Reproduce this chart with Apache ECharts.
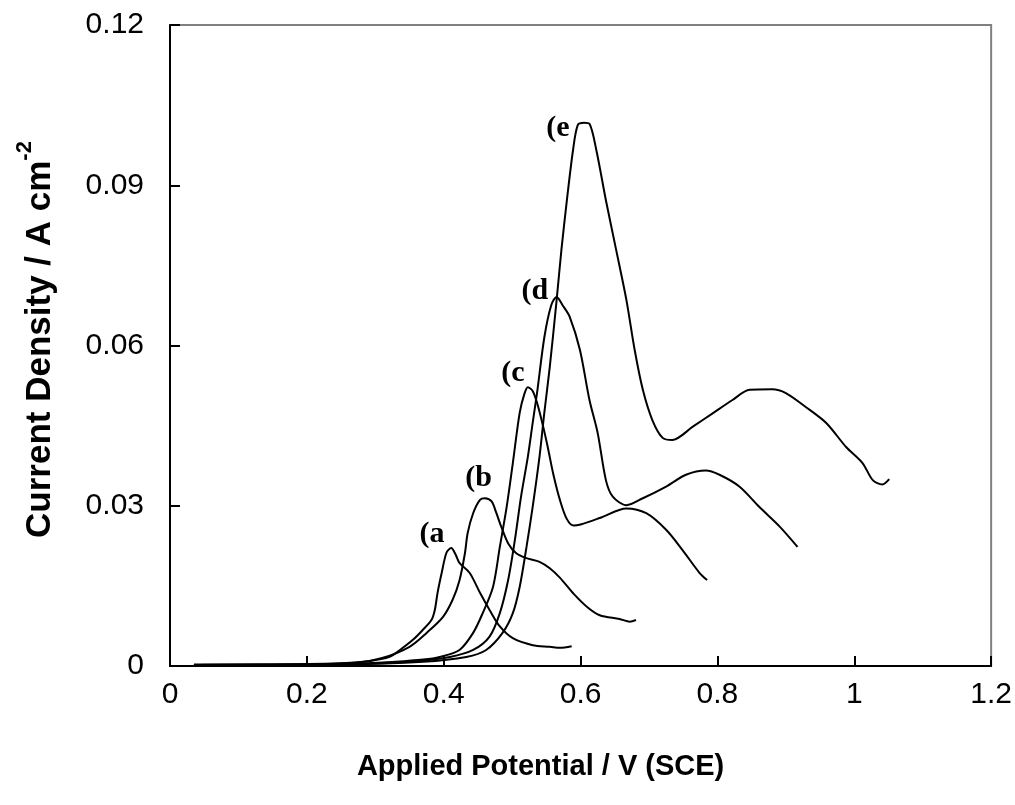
<!DOCTYPE html>
<html>
<head>
<meta charset="utf-8">
<script src="https://cdn.jsdelivr.net/npm/echarts@6/dist/echarts.min.js"></script>
<style>
html,body{margin:0;padding:0;background:#fff;}
#chart{width:1015px;height:805px;}
</style>
</head>
<body>
<div id="chart"></div>
<script>
const xTicks = {min: 0, max: 1.2, interval: 0.2};
const yTicks = {min: 0, max: 0.12, interval: 0.03};

const curveA = [[0.035,0.0003],[0.15,0.0003],[0.25,0.0005],[0.29,0.0009],[0.321,0.0017],[0.336,0.003],[0.355,0.0049],[0.369,0.0067],[0.382,0.0086],[0.387,0.0105],[0.391,0.0137],[0.397,0.0174],[0.404,0.0212],[0.411,0.0221],[0.418,0.0207],[0.423,0.0193],[0.438,0.0174],[0.453,0.0137],[0.467,0.0105],[0.482,0.0074],[0.501,0.0052],[0.53,0.0039],[0.555,0.0036],[0.57,0.0034],[0.587,0.0037]];
const curveB = [[0.035,0.0002],[0.2,0.0003],[0.27,0.0006],[0.31,0.0015],[0.35,0.0036],[0.375,0.0062],[0.399,0.0092],[0.413,0.0124],[0.423,0.016],[0.431,0.0211],[0.435,0.0249],[0.443,0.0286],[0.453,0.0311],[0.46,0.0314],[0.47,0.0308],[0.477,0.0286],[0.484,0.0261],[0.494,0.023],[0.506,0.0211],[0.521,0.0202],[0.54,0.0195],[0.555,0.0183],[0.57,0.0165],[0.59,0.0135],[0.61,0.011],[0.628,0.0095],[0.657,0.0088],[0.672,0.0083],[0.681,0.0086]];
const curveC = [[0.035,0.0002],[0.25,0.0003],[0.33,0.0008],[0.37,0.0012],[0.394,0.0017],[0.423,0.003],[0.443,0.0062],[0.457,0.0099],[0.472,0.0148],[0.482,0.0223],[0.492,0.0298],[0.501,0.038],[0.511,0.0474],[0.518,0.051],[0.523,0.0522],[0.53,0.0515],[0.537,0.049],[0.545,0.045],[0.552,0.041],[0.56,0.036],[0.57,0.031],[0.58,0.0275],[0.59,0.0263],[0.6,0.0265],[0.628,0.0277],[0.667,0.0295],[0.696,0.0286],[0.725,0.0255],[0.749,0.0217],[0.774,0.0174],[0.785,0.0161]];
const curveD = [[0.035,0.0002],[0.25,0.0003],[0.35,0.0008],[0.409,0.0017],[0.443,0.003],[0.467,0.0055],[0.482,0.0099],[0.494,0.016],[0.504,0.0236],[0.513,0.0317],[0.523,0.0392],[0.53,0.0455],[0.537,0.0517],[0.547,0.0615],[0.557,0.0675],[0.565,0.0691],[0.574,0.0675],[0.584,0.0654],[0.599,0.0592],[0.613,0.0498],[0.625,0.0436],[0.637,0.0348],[0.647,0.0317],[0.667,0.0301],[0.691,0.0314],[0.725,0.0336],[0.754,0.0358],[0.783,0.0366],[0.803,0.0358],[0.832,0.0336],[0.861,0.0298],[0.891,0.0261],[0.917,0.0223]];
const curveE = [[0.035,0.0002],[0.25,0.0003],[0.37,0.0008],[0.433,0.0017],[0.462,0.003],[0.486,0.0062],[0.501,0.0099],[0.511,0.0148],[0.521,0.0223],[0.53,0.0298],[0.54,0.0392],[0.547,0.0474],[0.555,0.056],[0.565,0.0685],[0.572,0.0779],[0.58,0.0872],[0.589,0.0966],[0.596,0.1013],[0.605,0.1017],[0.613,0.1015],[0.623,0.0966],[0.637,0.0872],[0.652,0.0779],[0.667,0.0685],[0.679,0.0592],[0.691,0.0517],[0.705,0.046],[0.72,0.0427],[0.734,0.0423],[0.764,0.0448],[0.793,0.0473],[0.822,0.0498],[0.847,0.0517],[0.88,0.0518],[0.9,0.0511],[0.929,0.0485],[0.959,0.0455],[0.988,0.041],[1.012,0.038],[1.027,0.0348],[1.041,0.034],[1.051,0.035]];

const curveLabels = ['(a', '(b', '(c', '(d', '(e'];
const labelX = [0.383, 0.451, 0.501, 0.533, 0.567];
const labelY = [0.0247, 0.0352, 0.0548, 0.0702, 0.1007];

const curves = [curveA, curveB, curveC, curveD, curveE];

const chart = echarts.init(document.getElementById('chart'), null, {renderer: 'canvas'});

const lineSeries = curves.map((c, i) => ({
  type: 'line',
  name: curveLabels[i],
  data: c,
  showSymbol: false,
  symbol: 'none',
  smooth: 0.3,
  lineStyle: {color: '#000', width: 2},
  z: 3,
  silent: true
}));

const labelSeries = {
  type: 'scatter',
  symbolSize: 0,
  silent: true,
  itemStyle: {color: '#000', opacity: 1},
  data: curveLabels.map((t, i) => [labelX[i], labelY[i], t]),
  label: {
    show: true,
    position: 'inside',
    formatter: p => p.value[2],
    fontFamily: '"Liberation Serif", "Times New Roman", serif',
    fontWeight: 'bold',
    fontSize: 30,
    color: '#000',
    opacity: 1
  },
  z: 5
};

const sansFont = '"Liberation Sans", Arial, sans-serif';

chart.setOption({
  animation: false,
  backgroundColor: '#fff',
  grid: {left: 170, right: 23, top: 25, bottom: 139, show: true, borderColor: '#808080', borderWidth: 2, backgroundColor: 'transparent'},
  xAxis: {
    type: 'value',
    min: xTicks.min, max: xTicks.max, interval: xTicks.interval,
    axisLine: {show: true, onZero: false, lineStyle: {color: '#000', width: 2}},
    axisTick: {show: true, inside: true, length: 10, lineStyle: {color: '#000', width: 2}},
    splitLine: {show: false},
    axisLabel: {
      color: '#000', fontSize: 30, margin: 14,
      fontFamily: sansFont,
      formatter: v => String(+v.toFixed(2))
    },
    name: 'Applied Potential / V (SCE)',
    nameLocation: 'middle',
    nameGap: 86,
    nameTextStyle: {color: '#000', fontSize: 29, fontWeight: 'bold', fontFamily: sansFont, padding: [0, 80, 0, 0]}
  },
  yAxis: {
    type: 'value',
    min: yTicks.min, max: yTicks.max, interval: yTicks.interval,
    axisLine: {show: true, onZero: false, lineStyle: {color: '#000', width: 2}},
    axisTick: {show: true, inside: true, length: 10, lineStyle: {color: '#000', width: 2}},
    splitLine: {show: false},
    axisLabel: {
      color: '#000', fontSize: 30, margin: 26,
      fontFamily: sansFont,
      formatter: v => String(+v.toFixed(2))
    },
    name: '{m|Current Density / A cm}{s|-2}',
    nameLocation: 'middle',
    nameGap: 112,
    nameTextStyle: {
      color: '#000',
      padding: [0, 0, 0, 12],
      rich: {
        m: {fontSize: 35, fontWeight: 'bold', fontFamily: sansFont, color: '#000', lineHeight: 44, verticalAlign: 'bottom'},
        s: {fontSize: 22, fontWeight: 'bold', fontFamily: sansFont, color: '#000', lineHeight: 44, verticalAlign: 'top'}
      }
    }
  },
  series: [...lineSeries, labelSeries]
});
</script>
</body>
</html>
